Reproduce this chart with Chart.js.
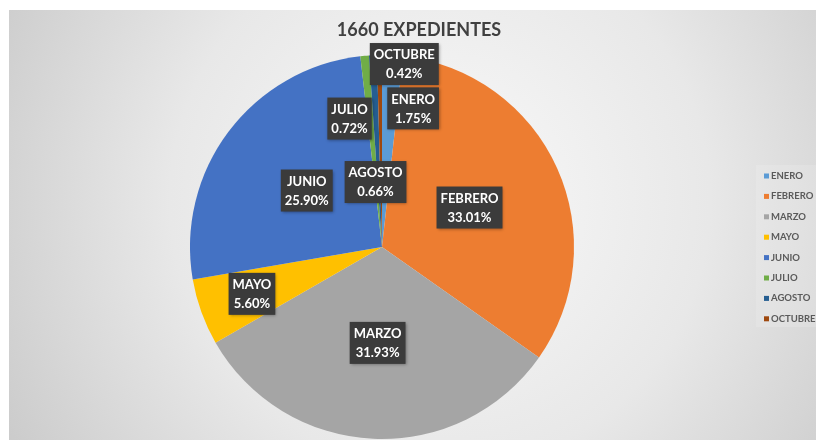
<!DOCTYPE html>
<html lang="es">
<head>
<meta charset="UTF-8">
<title>1660 EXPEDIENTES</title>
<script src="https://cdn.jsdelivr.net/npm/chart.js@4"></script>
<style>
  body { margin: 0; background: #fff; }
  #wrap { width: 816px; height: 440px; }
</style>
</head>
<body>
<div id="wrap"><canvas id="chart" width="816" height="440"></canvas></div>
<script>
// data
const months = ["ENERO", "FEBRERO", "MARZO", "MAYO", "JUNIO", "JULIO", "AGOSTO", "OCTUBRE"];
const shares = [1.75, 33.01, 31.93, 5.60, 25.90, 0.72, 0.66, 0.42];
const sliceColors = ["#5B9BD5", "#ED7D31", "#A5A5A5", "#FFC000", "#4472C4", "#70AD47", "#255E91", "#9E480E"];
const chartTitle = "1660 EXPEDIENTES";

// where each data label sits: fraction of radius and angle nudge (deg) from slice middle
const labelRadius = [0.74, 0.5, 0.5, 0.72, 0.49, 0.69, 0.34, 0.96];
const labelNudge = [9.5, 0, 0, 0, 0, -9, -3, 7.7];

const FONT = "Lato, 'Open Sans', sans-serif";

const backdrop = {
  id: "backdrop",
  beforeDraw(chart) {
    const ctx = chart.ctx;
    ctx.save();
    ctx.fillStyle = "#fff";
    ctx.fillRect(0, 0, chart.width, chart.height);
    const g = ctx.createRadialGradient(440, 200, 20, 440, 200, 520);
    g.addColorStop(0, "#f8f8f8");
    g.addColorStop(0.5, "#e8e8e8");
    g.addColorStop(1, "#c8c8c8");
    ctx.fillStyle = g;
    ctx.fillRect(9, 10, chart.width - 9, chart.height - 10);
    // title
    ctx.fillStyle = "#404040";
    ctx.font = "bold 18px " + FONT;
    ctx.textAlign = "center";
    ctx.textBaseline = "middle";
    ctx.fillText(chartTitle, 419, 30);
    ctx.restore();
  }
};

const boxLabels = {
  id: "boxLabels",
  afterDatasetsDraw(chart) {
    const ctx = chart.ctx;
    const arcs = chart.getDatasetMeta(0).data;
    ctx.save();
    ctx.font = "bold 13px " + FONT;
    ctx.textAlign = "center";
    ctx.textBaseline = "middle";
    arcs.forEach((arc, i) => {
      const p = arc.getProps(["x", "y", "startAngle", "endAngle", "outerRadius"], true);
      const a = (p.startAngle + p.endAngle) / 2 + labelNudge[i] * Math.PI / 180;
      const r = p.outerRadius * labelRadius[i];
      const cx = p.x + Math.cos(a) * r;
      const cy = p.y + Math.sin(a) * r;
      const l1 = chart.data.labels[i];
      const l2 = shares[i].toFixed(2) + "%";
      const w = Math.max(ctx.measureText(l1).width, ctx.measureText(l2).width) + 8;
      const h = 42;
      ctx.shadowColor = "rgba(0,0,0,0.35)";
      ctx.shadowBlur = 3;
      ctx.shadowOffsetX = 1;
      ctx.shadowOffsetY = 1;
      ctx.fillStyle = "#3b3b3b";
      ctx.fillRect(cx - w / 2, cy - h / 2, w, h);
      ctx.shadowColor = "transparent";
      ctx.fillStyle = "#ffffff";
      ctx.fillText(l1, cx, cy - 9);
      ctx.fillText(l2, cx, cy + 10);
    });
    ctx.restore();
  }
};

const sideLegend = {
  id: "sideLegend",
  afterDraw(chart) {
    const ctx = chart.ctx;
    ctx.save();
    ctx.fillStyle = "rgba(255,255,255,0.15)";
    ctx.fillRect(756, 165, 60, 162);
    ctx.font = "bold 9.5px " + FONT;
    ctx.textAlign = "left";
    ctx.textBaseline = "middle";
    chart.data.labels.forEach((lab, i) => {
      const y = 176 + i * 20.4;
      ctx.fillStyle = chart.data.datasets[0].backgroundColor[i];
      ctx.fillRect(764, y - 2.5, 5, 5);
      ctx.fillStyle = "#5a5a5a";
      ctx.fillText(lab, 771, y);
    });
    ctx.restore();
  }
};

new Chart(document.getElementById("chart"), {
  type: "pie",
  data: {
    labels: months,
    datasets: [{
      data: shares,
      backgroundColor: sliceColors,
      borderWidth: 0
    }]
  },
  options: {
    responsive: false,
    animation: false,
    layout: { padding: { left: 190, top: 55, right: 242, bottom: 1 } },
    plugins: {
      legend: { display: false },
      tooltip: { enabled: false }
    }
  },
  plugins: [backdrop, boxLabels, sideLegend]
});
</script>
</body>
</html>
